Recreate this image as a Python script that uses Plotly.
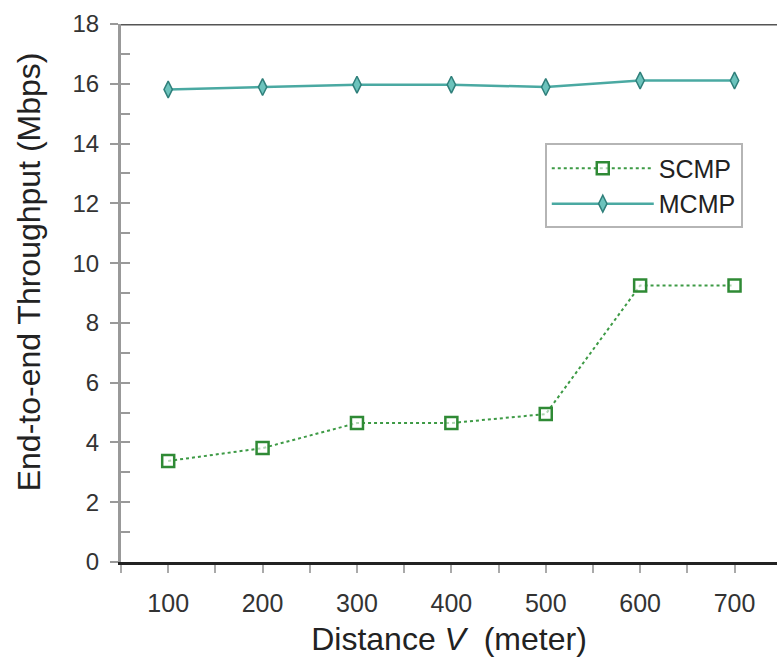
import plotly.graph_objects as go

# Distance between nodes (meters)
distance = [100, 200, 300, 400, 500, 600, 700]

# End-to-end throughput (Mbps)
scmp = [3.38, 3.81, 4.65, 4.65, 4.95, 9.25, 9.25]
mcmp = [15.81, 15.89, 15.97, 15.97, 15.89, 16.11, 16.11]

Y_RANGE = [0, 18]

fig = go.Figure()

fig.add_trace(go.Scatter(
    x=distance, y=scmp, name="SCMP", mode="lines+markers",
    line=dict(color="#3d9a45", width=2, dash="dot"),
    marker=dict(symbol="square", size=12, color="rgba(255,255,255,0.6)",
                line=dict(color="#2f8a35", width=2.5)),
))
fig.add_trace(go.Scatter(
    x=distance, y=mcmp, name="MCMP", mode="lines+markers",
    line=dict(color="#4aa9a2", width=2.5),
    marker=dict(symbol="diamond-tall", size=12, color="#6cc3bc",
                line=dict(color="#2f7f7a", width=1.5)),
))

# top frame line of the plotting area
fig.add_shape(type="line", xref="paper", yref="y", x0=0, x1=1, y0=18, y1=18,
              line=dict(color="#555555", width=3))

# y-axis title placed as a rotated annotation
fig.add_annotation(
    text="End-to-end Throughput (Mbps)", textangle=-90,
    xref="paper", yref="paper", x=-0.139, y=0.54,
    xanchor="center", yanchor="middle", showarrow=False,
    font=dict(size=32, color="#222"),
)

fig.update_layout(
    width=777, height=660,
    margin=dict(l=121, r=0, t=24, b=98),
    paper_bgcolor="white", plot_bgcolor="white",
    font=dict(family="Liberation Sans, Arial, sans-serif", color="#222"),
    showlegend=True,
    legend=dict(
        x=0.646, y=0.778, xanchor="left", yanchor="top",
        bgcolor="white", bordercolor="#b5b5b5", borderwidth=2,
        font=dict(size=25, color="#222"),
        itemwidth=102, tracegroupgap=0,
    ),
    xaxis=dict(
        range=[50, 745], tick0=100, dtick=100,
        showgrid=False, zeroline=False,
        showline=True, linecolor="#222", linewidth=3,
        ticks="outside", ticklen=8, tickcolor="#aaaaaa", tickwidth=1.5,
        minor=dict(dtick=50, tick0=50, ticks="outside", ticklen=8,
                   tickcolor="#aaaaaa", tickwidth=1.5),
        tickfont=dict(size=25, color="#333"),
        ticklabelstandoff=9,
        title=dict(text="Distance <i>V</i>  (meter)", font=dict(size=32, color="#222"),
                   standoff=12),
    ),
    yaxis=dict(
        range=Y_RANGE, tick0=0, dtick=2,
        showgrid=False, zeroline=False,
        showline=True, linecolor="#999999", linewidth=3,
        ticks="outside", ticklen=8, tickcolor="#999999", tickwidth=1.5,
        tickfont=dict(size=24, color="#333"),
        ticklabelstandoff=6,
    ),
    # inner tick marks at every unit, drawn on an overlaid axis
    yaxis2=dict(
        overlaying="y", side="left", range=Y_RANGE, tick0=0, dtick=1,
        showgrid=False, zeroline=False, showline=False,
        ticks="inside", ticklen=9, tickcolor="#999999", tickwidth=1.5,
        showticklabels=False,
    ),
)

# an empty trace so the overlaid axis is drawn
fig.add_trace(go.Scatter(x=[None], y=[None], yaxis="y2", showlegend=False,
                         hoverinfo="skip"))

fig.write_html("out.html")
